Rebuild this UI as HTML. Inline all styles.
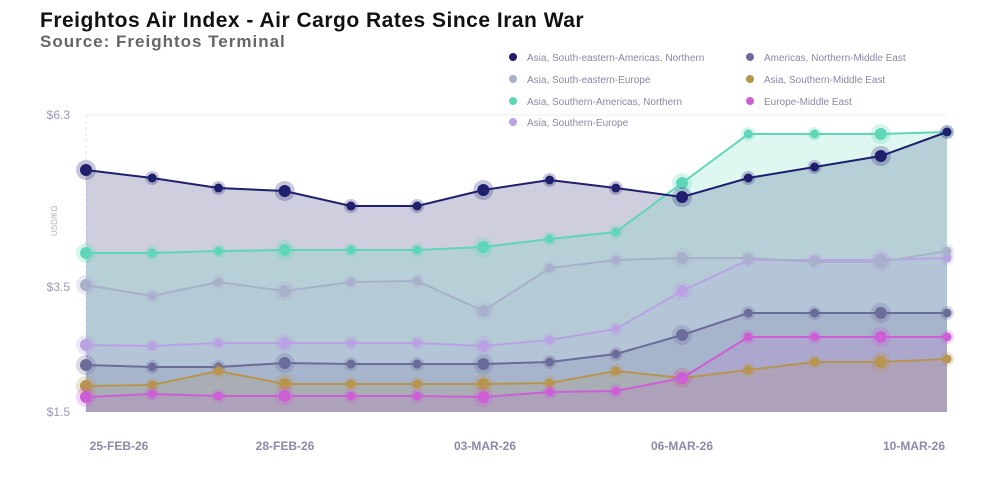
<!DOCTYPE html>
<html><head><meta charset="utf-8"><style>
body{margin:0;background:#fff;width:986px;height:478px;overflow:hidden;font-family:"Liberation Sans",sans-serif}
</style></head><body>
<svg id="s" width="986" height="478" xmlns="http://www.w3.org/2000/svg">
<text x="40" y="27" font-size="21" font-weight="bold" fill="#111" letter-spacing="0.5">Freightos Air Index - Air Cargo Rates Since Iran War</text>
<text x="40" y="47" font-size="17" font-weight="bold" fill="#666" letter-spacing="1">Source: Freightos Terminal</text>
<line x1="86" y1="115" x2="947" y2="115" stroke="#eee"/>
<line x1="86" y1="115" x2="86" y2="412" stroke="#e4e4ee" stroke-dasharray="3,3"/>
<text x="70" y="119" font-size="12" fill="#9a9ab8" text-anchor="end">$6.3</text>
<text x="70" y="291" font-size="12" fill="#9a9ab8" text-anchor="end">$3.5</text>
<text x="70" y="416" font-size="12" fill="#9a9ab8" text-anchor="end">$1.5</text>
<text x="0" y="0" font-size="8" fill="#b0b0c8" transform="translate(57,236) rotate(-90)">USD/KG</text>
<g font-size="12" fill="#8a8aaa" text-anchor="middle" font-weight="bold">
<text x="119" y="450">25-FEB-26</text><text x="285" y="450">28-FEB-26</text><text x="485" y="450">03-MAR-26</text><text x="682" y="450">06-MAR-26</text><text x="914" y="450">10-MAR-26</text></g>
<g id="lg" font-size="10" fill="#8888aa"></g>
<g id="ch"></g>
</svg>
<script>
var X=[];for(var i=0;i<14;i++)X.push(86+i*66.23);
var S=[
["#6c6c9a",[365,367,367,363,364,364,364,362,354,335,313,313,313,313],0.18],
["#b8954f",[386,385,371,384,384,384,384,383,371,378,370,362,362,359],0.18],
["#cc5fd6",[397,394,396,396,396,396,397,392,391,378,337,337,337,337],0.15],
["#b9a2e4",[345,346,343,343,343,343,346,340,329,291,260,260,260,258],0.12],
["#a8b0cc",[285,296,282,291,282,281,311,268,260,258,258,262,262,251],0.15],
["#5fd6b8",[253,253,251,250,250,250,247,239,232,183,134,134,134,132],0.2],
["#1f1f6e",[170,178,188,191,206,206,190,180,188,197,178,167,156,132],0.22]];
var ch=document.getElementById('ch'),h='';
var order=[6,5,4,3,0,1,2];
order.forEach(function(k){var s=S[k];var d='M'+X[0]+',412';s[1].forEach(function(y,i){d+='L'+X[i]+','+y});d+='L'+X[13]+',412Z';h+='<path d="'+d+'" fill="'+s[0]+'" fill-opacity="'+s[2]+'"/>';});
S.forEach(function(s){var p=s[1].map(function(y,i){return X[i]+','+y}).join(' ');h+='<polyline points="'+p+'" fill="none" stroke="'+s[0]+'" stroke-width="2"/>';
s[1].forEach(function(y,i){var big=(i%3==0);h+='<circle cx="'+X[i]+'" cy="'+y+'" r="'+(big?10:7)+'" fill="'+s[0]+'" fill-opacity="0.25"/><circle cx="'+X[i]+'" cy="'+y+'" r="'+(big?6:4.5)+'" fill="'+s[0]+'"/>';});});
ch.innerHTML=h;
var L=[["#1f1f6e","Asia, South-eastern-Americas, Northern",513,57],["#a8b0cc","Asia, South-eastern-Europe",513,79],["#5fd6b8","Asia, Southern-Americas, Northern",513,101],["#b9a2e4","Asia, Southern-Europe",513,122],["#6c6c9a","Americas, Northern-Middle East",750,57],["#b8954f","Asia, Southern-Middle East",750,79],["#cc5fd6","Europe-Middle East",750,101]];
var g='';L.forEach(function(l){g+='<circle cx="'+l[2]+'" cy="'+l[3]+'" r="4" fill="'+l[0]+'"/><text x="'+(l[2]+14)+'" y="'+(l[3]+4)+'">'+l[1]+'</text>'});
document.getElementById('lg').innerHTML=g;
</script>
</body></html>
